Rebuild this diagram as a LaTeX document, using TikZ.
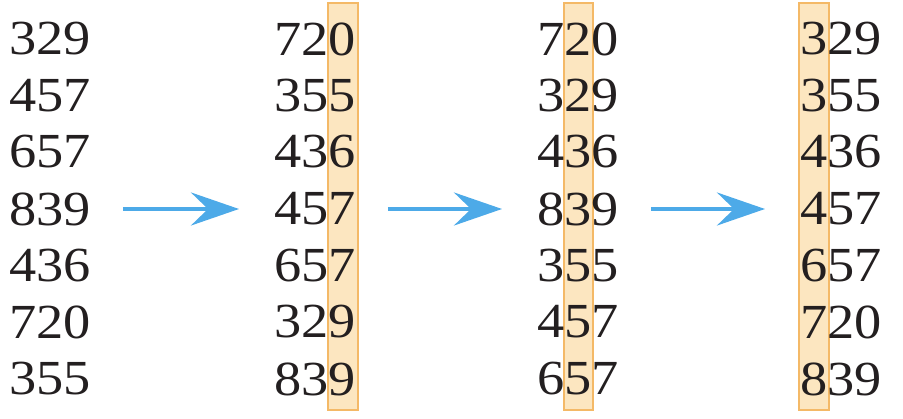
\documentclass[tikz,border=0pt]{standalone}
\usepackage{fontspec}
\setmainfont{Liberation Serif}[FakeStretch=1.11]
\usepackage{tikz}
\usetikzlibrary{arrows.meta}

\definecolor{digitbox}{HTML}{FCE6C0}
\definecolor{digitline}{HTML}{F4B967}
\definecolor{passarrow}{HTML}{4DAAE8}
\definecolor{digitink}{HTML}{231F20}

\tikzset{
  num/.style={inner sep=0pt,anchor=center,text=digitink,font=\fontsize{49}{58}\selectfont},
  hl/.style={fill=digitbox,draw=digitline,line width=1.5pt},
  pass/.style={draw=passarrow,line width=4pt,-{Stealth[length=48pt,width=33pt,inset=17pt]},
    shorten <=32pt,shorten >=35pt}
}

\begin{document}
\begin{tikzpicture}[x=1pt,y=-1pt]
  \useasboundingbox (0,0) rectangle (903,419);

  \filldraw[hl] (328,3) rectangle (358,410);
  \filldraw[hl] (564,3) rectangle (593,410);
  \filldraw[hl] (799,3) rectangle (829,410);

  \node(a1)[num] at (50,39) {329};
  \node(a2)[num] at (50,96) {457};
  \node(a3)[num] at (50,152) {657};
  \node(a4)[num] at (50,209) {839};
  \node(a5)[num] at (50,266) {436};
  \node(a6)[num] at (50,322) {720};
  \node(a7)[num] at (50,379) {355};

  \node(b1)[num] at (315,39) {720};
  \node(b2)[num] at (315,96) {355};
  \node(b3)[num] at (315,152) {436};
  \node(b4)[num] at (315,209) {457};
  \node(b5)[num] at (315,266) {657};
  \node(b6)[num] at (315,322) {329};
  \node(b7)[num] at (315,379) {839};

  \node(c1)[num] at (578,39) {720};
  \node(c2)[num] at (578,96) {329};
  \node(c3)[num] at (578,152) {436};
  \node(c4)[num] at (578,209) {839};
  \node(c5)[num] at (578,266) {355};
  \node(c6)[num] at (578,322) {457};
  \node(c7)[num] at (578,379) {657};

  \node(d1)[num] at (841,39) {329};
  \node(d2)[num] at (841,96) {355};
  \node(d3)[num] at (841,152) {436};
  \node(d4)[num] at (841,209) {457};
  \node(d5)[num] at (841,266) {657};
  \node(d6)[num] at (841,322) {720};
  \node(d7)[num] at (841,379) {839};

  \draw [pass] (a4.east) -- (b4.west);
  \draw [pass] (b4.east) -- (c4.west);
  \draw [pass] (c4.east) -- (d4.west);

\end{tikzpicture}
\end{document}
